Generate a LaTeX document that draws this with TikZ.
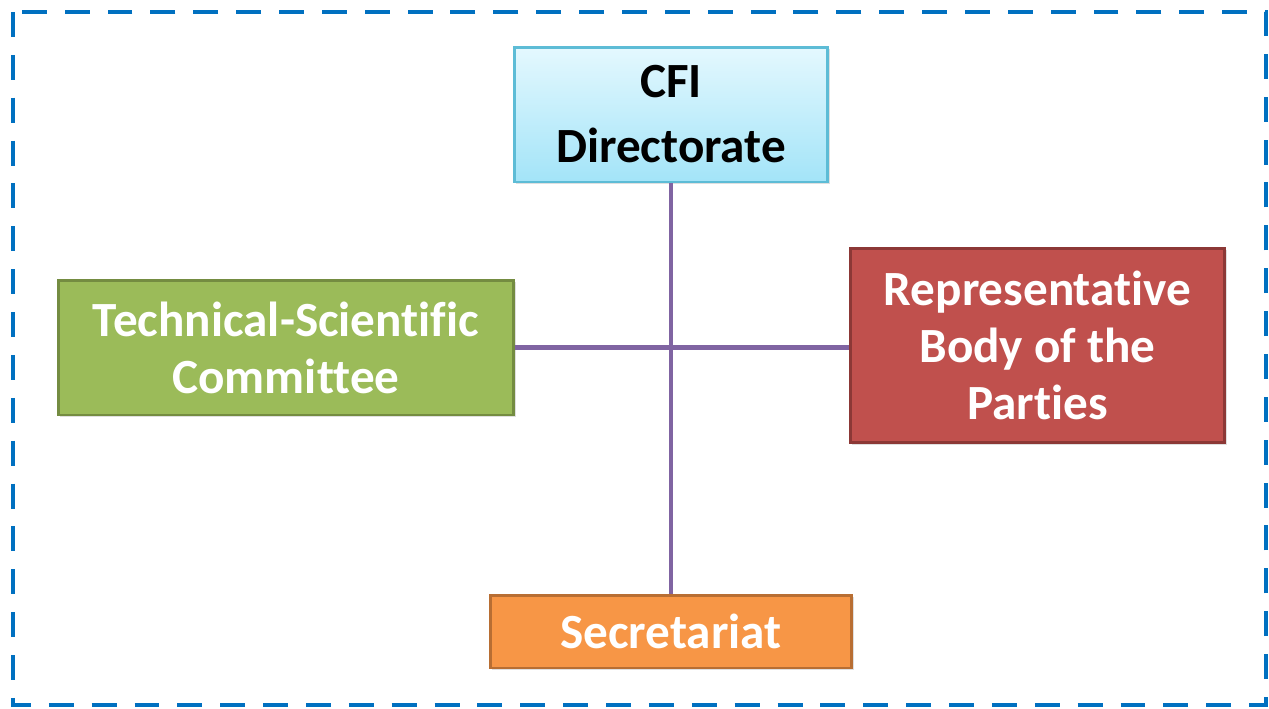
\documentclass[tikz,border=0pt]{standalone}
\usepackage{fontspec}
\setmainfont[RawFeature={-liga}]{Carlito}
\usepackage{tikz}
\usetikzlibrary{shadows}
\definecolor{frameblue}{HTML}{0070C0}
\definecolor{linkpurple}{HTML}{8064A2}
\definecolor{dirtop}{HTML}{E4F8FE}
\definecolor{dirbot}{HTML}{A3E4F8}
\definecolor{dirline}{HTML}{5DBCD6}
\definecolor{techfill}{HTML}{9BBB59}
\definecolor{techline}{HTML}{748C41}
\definecolor{repfill}{HTML}{C0504D}
\definecolor{repline}{HTML}{8C3836}
\definecolor{secfill}{HTML}{F79646}
\definecolor{secline}{HTML}{B86E33}
\tikzset{
    orgbox/.style={draw,line width=1.7pt,align=center,inner sep=0pt,
        font=\fontsize{28}{32.5}\selectfont\bfseries,text=white,
        drop shadow={opacity=0.25,shadow xshift=1pt,shadow yshift=-1.2pt}},
    link/.style={linkpurple,line width=2.3pt}
}

\begin{document}
\begin{tikzpicture}[x=0.02cm,y=-0.02cm]
        \useasboundingbox (0,0) rectangle (1269,708);
        \draw[frameblue,line width=2.3pt,dash pattern=on 14.2pt off 10.2pt] (13,12) rectangle (1266,705);
        \node[orgbox,draw=dirline,top color=dirtop,bottom color=dirbot,text=black,
            font=\fontsize{28}{37}\selectfont\bfseries,
            minimum width=6.28cm,minimum height=2.7cm] (dir) at (671,114.5) {CFI\\Directorate};
        \node[orgbox,draw=techline,fill=techfill,minimum width=9.12cm,minimum height=2.7cm] (tech) at (286,347.5) {Technical-Scientific\\Committee};
        \node[orgbox,draw=repline,fill=repfill,minimum width=7.5cm,minimum height=3.9cm] (rep) at (1037.5,345.5) {Representative\\Body of the\\Parties};
        \node[orgbox,draw=secline,fill=secfill,minimum width=7.24cm,minimum height=1.46cm] (sec) at (671,631.5) {Secretariat};
        \draw[link] (dir.south) -- (sec.north);
        \draw[link] (tech.east) -- (tech.east -| rep.west);
    \end{tikzpicture}
\end{document}
